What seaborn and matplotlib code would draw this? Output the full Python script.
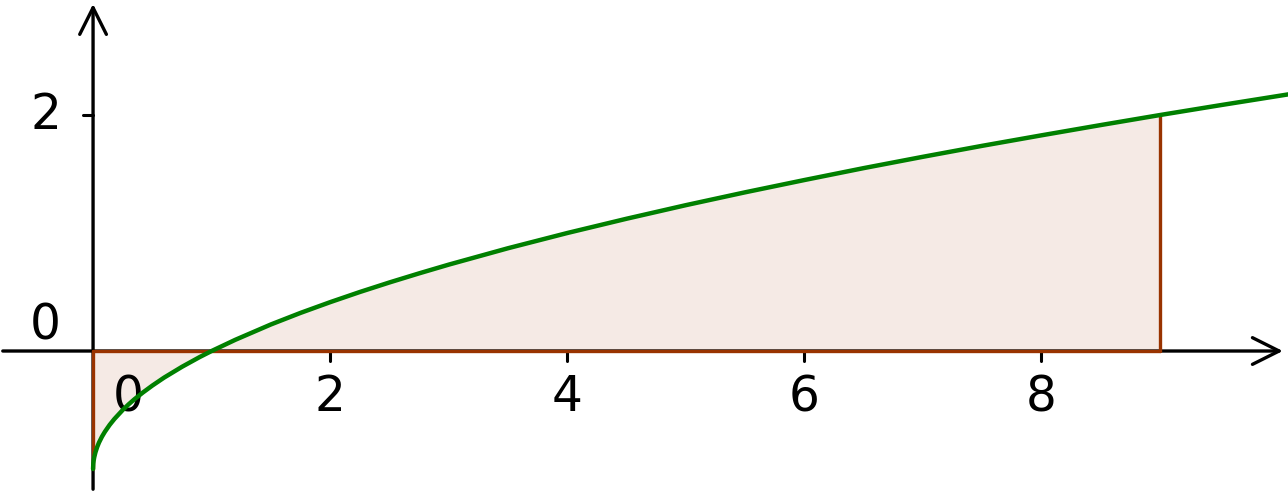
import matplotlib
matplotlib.use("Agg")
import matplotlib.pyplot as plt
import seaborn as sns
import numpy as np

# Curve points
curve_x = [0.0, 0.002, 0.005, 0.01, 0.02, 0.035, 0.05, 0.075, 0.1, 0.14, 0.18, 0.25, 0.3, 0.35,
           0.42, 0.5, 0.6, 0.75, 0.9, 1.0, 1.2, 1.5, 1.75, 2.0, 2.25, 2.5, 2.75, 3.0, 3.5,
           4.0, 4.5, 5.0, 5.5, 6.0, 6.5, 7.0, 7.5, 8.0, 8.5, 9.0, 9.5, 10.1]
curve_y = [-1.0, -0.955, -0.929, -0.9, -0.859, -0.813, -0.776, -0.726, -0.684, -0.626, -0.576,
           -0.5, -0.452, -0.408, -0.352, -0.293, -0.225, -0.134, -0.051, 0.0, 0.095, 0.225,
           0.323, 0.414, 0.5, 0.581, 0.658, 0.732, 0.871, 1.0, 1.121, 1.236, 1.345, 1.449,
           1.55, 1.646, 1.739, 1.828, 1.915, 2.0, 2.082, 2.178]

area_start = 0
area_end = 9

x_ticks = [2, 4, 6, 8]
y_ticks = [2]

GREEN = "#008000"
BROWN = "#993300"
FILL = "#f5eae5"

sns.set_style("white")
plt.rcParams['font.family'] = ['DejaVu Sans']

Figure, Axis = plt.subplots(figsize=(12.88, 4.92), dpi=100)
Figure.subplots_adjust(left=0, right=1, bottom=0, top=1)

X_Min, X_Max = -0.785, 10.08
Y_Min, Y_Max = -1.195, 2.975
Axis.set_xlim(X_Min, X_Max)
Axis.set_ylim(Y_Min, Y_Max)
Axis.axis('off')

# shaded area between curve and x axis
cx = np.array(curve_x)
cy = np.array(curve_y)
mask = (cx >= area_start) & (cx <= area_end)
Axis.fill_between(cx[mask], cy[mask], 0, color=FILL, lw=0, zorder=1)

# axes with arrows
Axis.annotate('', xy=(X_Max - 0.02, 0), xytext=(X_Min, 0),
              arrowprops=dict(arrowstyle='->', color='black', lw=2.4, mutation_scale=48), zorder=3)
Axis.annotate('', xy=(0, Y_Max - 0.01), xytext=(0, Y_Min),
              arrowprops=dict(arrowstyle='->', color='black', lw=2.4, mutation_scale=48), zorder=3)

# border of the area
Axis.plot([area_start, area_end], [0, 0], color=BROWN, lw=2.4, zorder=4)
Axis.plot([area_start, area_start], [0, cy[mask][0]], color=BROWN, lw=2.4, zorder=4)
Axis.plot([area_end, area_end], [0, cy[mask][-1]], color=BROWN, lw=2.4, zorder=4)

# ticks
for T in x_ticks:
    Axis.plot([T, T], [0, -0.085], color='black', lw=2.2, zorder=3)
    Axis.text(T, -0.19, str(T), ha='center', va='top', fontsize=35, color='black')
for T in y_ticks:
    Axis.plot([-0.085, 0], [T, T], color='black', lw=2.2, zorder=3)
    Axis.text(-0.27, T, str(T), ha='right', va='center', fontsize=35, color='black')
Axis.text(0.3, -0.19, '0', ha='center', va='top', fontsize=35, color='black')
Axis.text(-0.4, 0.22, '0', ha='center', va='center', fontsize=35, color='black')

sns.lineplot(x=curve_x, y=curve_y, sort=False, color=GREEN, lw=3.2, ax=Axis, zorder=5)

plt.savefig("out.png", dpi=100)
